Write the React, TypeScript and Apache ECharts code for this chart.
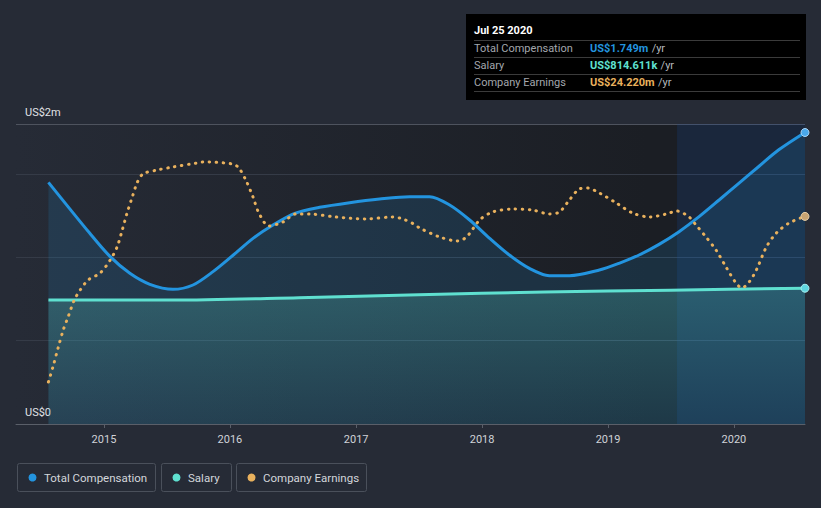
import React, { useEffect, useRef } from "react";
import * as echarts from "echarts";

// ---- data ----
const compDates = ["2014-07-24","2014-11-21","2015-01-19","2015-03-17","2015-05-14","2015-07-20","2015-09-16","2015-11-13","2016-01-11","2016-03-08","2016-05-05","2016-07-07","2016-09-17","2016-12-13","2017-03-10","2017-06-05","2017-08-02","2017-09-29","2017-11-26","2018-01-23","2018-03-21","2018-05-18","2018-07-15","2018-09-11","2018-12-07","2019-02-02","2019-04-01","2019-05-29","2019-07-26","2019-09-22","2019-11-19","2020-01-15","2020-03-13","2020-05-10","2020-07-25"];
const compValues = [1.45,1.144,1.004,0.904,0.838,0.808,0.834,0.914,1.014,1.114,1.194,1.264,1.30,1.328,1.35,1.364,1.364,1.314,1.224,1.114,1.014,0.934,0.89,0.89,0.924,0.964,1.014,1.078,1.154,1.244,1.344,1.444,1.545,1.645,1.749];

const salaryDates = ["2014-07-24","2015-07-20","2016-07-19","2017-07-01","2018-07-01","2019-07-01","2020-07-25"];
const salaryValues = [0.744,0.744,0.758,0.775,0.792,0.803,0.8146];

const earnDates = ["2014-07-24","2014-08-06","2014-08-21","2014-09-05","2014-09-19","2014-10-07","2014-10-24","2014-11-16","2014-12-21","2015-01-19","2015-02-08","2015-02-23","2015-03-09","2015-03-24","2015-04-08","2015-04-24","2015-06-04","2015-07-19","2015-09-27","2015-10-15","2016-01-10","2016-01-27","2016-02-16","2016-03-08","2016-03-25","2016-04-23","2016-06-03","2016-07-10","2016-08-17","2016-11-03","2017-01-29","2017-04-17","2017-05-16","2017-06-17","2017-07-04","2017-08-31","2017-10-22","2017-11-17","2017-12-25","2018-01-31","2018-03-30","2018-05-27","2018-07-15","2018-08-13","2018-09-11","2018-10-10","2018-11-02","2018-12-07","2019-01-25","2019-03-13","2019-05-01","2019-06-19","2019-07-20","2019-08-24","2019-09-13","2019-10-12","2019-11-10","2019-12-09","2020-01-07","2020-01-24","2020-02-14","2020-03-06","2020-04-04","2020-05-03","2020-06-09","2020-07-25"];
const earnValues = [4.9,6.65,8.87,10.97,12.48,14.47,15.63,16.8,17.62,19.13,20.65,22.63,24.62,26.48,28.23,29.17,29.63,29.98,30.45,30.57,30.33,29.87,28.47,26.48,24.62,23.1,23.57,24.5,24.5,24.15,23.92,24.15,23.92,23.33,22.87,21.82,21.35,21.82,23.8,24.73,25.08,24.97,24.5,24.73,26.13,27.42,27.53,26.95,25.78,24.62,24.15,24.5,24.85,24.15,23.22,21.82,20.3,18.32,16.45,15.87,16.57,17.97,20.65,22.28,23.45,24.22];

const seriesNames = ["Total Compensation", "Salary", "Company Earnings"];
const seriesColors = ["#2394df", "#5fe0d0", "#e9b15d"];
const yTickLabels: Record<string, string> = { "0": "US$0", "1.8": "US$2m" };

const tooltipTitle = "Jul 25 2020";
const tooltipValues = ["US$1.749m", "US$814.611k", "US$24.220m"];

const highlightStart = "2019-07-20";
const axisStart = "2014-04-21";
const axisEnd = "2020-07-25";

export default function App() {
  const ref = useRef<HTMLDivElement>(null);
  useEffect(() => {
    if (!ref.current) return;
    const chart = echarts.init(ref.current, null, { renderer: "svg" });
    const lastSize = (n: number, size: number) => (_v: any, p: any) => (p.dataIndex === n - 1 ? size : 0);

    const legendBoxes = [
      { x: 17, w: 138 },
      { x: 161, w: 70 },
      { x: 236, w: 130 },
    ];
    const legendGraphics: any[] = legendBoxes.map((b, i) => ({
      type: "group",
      children: [
        { type: "rect", shape: { x: b.x + 0.5, y: 463.5, width: b.w, height: 28, r: 2 }, style: { fill: "transparent", stroke: "#4a505b", lineWidth: 1 } },
        { type: "circle", shape: { cx: b.x + 15.5, cy: 477.5, r: 4 }, style: { fill: seriesColors[i] } },
        { type: "text", x: b.x + 27, y: 477.5, style: { text: seriesNames[i], fill: "#d3d6db", font: "11.5px Roboto, sans-serif", verticalAlign: "middle" } },
      ],
    }));

    const ttRowsY = [48, 65, 82];
    const ttGraphics: any[] = [
      { type: "rect", shape: { x: 466, y: 14, width: 340, height: 86 }, style: { fill: "#000000" } },
      { type: "text", x: 474, y: 30, style: { text: tooltipTitle, fill: "#ffffff", font: "bold 11px Roboto, sans-serif", verticalAlign: "middle" } },
    ];
    [40, 57, 74, 91].forEach((y) => {
      ttGraphics.push({ type: "line", shape: { x1: 474, y1: y + 0.5, x2: 800, y2: y + 0.5 }, style: { stroke: "#3b3b3b", lineWidth: 1 } });
    });
    seriesNames.forEach((n, i) => {
      ttGraphics.push({ type: "text", x: 474, y: ttRowsY[i], style: { text: n, fill: "#a3a7ad", font: "11px Roboto, sans-serif", verticalAlign: "middle" } });
      ttGraphics.push({
        type: "text", x: 590, y: ttRowsY[i],
        style: {
          text: "{v|" + tooltipValues[i] + "} {u|/yr}",
          verticalAlign: "middle",
          rich: {
            v: { fill: seriesColors[i], font: "bold 11px Roboto, sans-serif" },
            u: { fill: "#b5b9bf", font: "11px Roboto, sans-serif" },
          },
        },
      });
    });

    chart.setOption({
      animation: false,
      backgroundColor: "#262b36",
      grid: {
        left: 16, right: 16, top: 124, bottom: 84, show: true, borderWidth: 0,
        backgroundColor: new echarts.graphic.LinearGradient(0, 0, 1, 0, [
          { offset: 0, color: "#262b36" },
          { offset: 0.8, color: "#1b1e24" },
          { offset: 1, color: "#1b1e24" },
        ]),
      },
      xAxis: {
        type: "time",
        min: axisStart,
        max: axisEnd,
        minInterval: 360 * 86400000,
        axisLine: { lineStyle: { color: "#5a5f69" } },
        axisTick: { show: true, length: 4, lineStyle: { color: "#5a5f69" } },
        axisLabel: { color: "#d0d3d8", fontSize: 11, fontFamily: "Roboto, sans-serif", formatter: "{yyyy}", margin: 10, showMinLabel: false, showMaxLabel: false },
        splitLine: { show: false },
      },
      yAxis: [
        {
          type: "value", min: 0, max: 1.8, interval: 0.5,
          axisLine: { show: false }, axisTick: { show: false },
          axisLabel: {
            inside: true, margin: 9, verticalAlign: "bottom", color: "#e0e2e6", fontSize: 11, fontFamily: "Roboto, sans-serif",
            formatter: (v: number) => yTickLabels[String(Math.round(v * 10) / 10)] || "",
            padding: [0, 0, 6, 0],
          },
          splitLine: { lineStyle: { color: ["#565b66", "#353b47", "#353b47", "#353b47", "#4e535e"], width: 1 } },
        },
        { type: "value", min: 0, max: 35, show: false, splitLine: { show: false } },
      ],
      series: [
        {
          name: seriesNames[0], type: "line", smooth: 0.3,
          data: compDates.map((d, i) => [d, compValues[i]]),
          symbol: "circle", showSymbol: true, symbolSize: lastSize(compDates.length, 8),
          itemStyle: { color: "#4aa8ea", borderColor: "#a9d6f7", borderWidth: 1 },
          lineStyle: { color: seriesColors[0], width: 3 },
          areaStyle: { color: "rgba(35,148,223,0.22)" },
          z: 2,
          markArea: {
            silent: true,
            itemStyle: { color: "rgba(25,75,160,0.2)" },
            data: [[{ xAxis: highlightStart }, { xAxis: axisEnd }]],
          },
        },
        {
          name: seriesNames[1], type: "line", smooth: 0.3,
          data: salaryDates.map((d, i) => [d, salaryValues[i]]),
          symbol: "circle", showSymbol: true, symbolSize: lastSize(salaryDates.length, 8),
          itemStyle: { color: "#5fd6e0", borderColor: "#a8eef0", borderWidth: 1 },
          lineStyle: { color: seriesColors[1], width: 3 },
          areaStyle: {
            color: new echarts.graphic.LinearGradient(0, 0, 0, 1, [
              { offset: 0, color: "rgba(95,224,208,0.32)" },
              { offset: 1, color: "rgba(95,224,208,0.07)" },
            ]),
          },
          z: 3,
        },
        {
          name: seriesNames[2], type: "line", smooth: 0.3, yAxisIndex: 1,
          data: earnDates.map((d, i) => [d, earnValues[i]]),
          symbol: "circle", showSymbol: true, symbolSize: lastSize(earnDates.length, 8),
          itemStyle: { color: "#c8a472", borderColor: "#e6cfa8", borderWidth: 1 },
          lineStyle: { color: seriesColors[2], width: 3, type: [0.5, 6.5], cap: "round" },
          z: 4,
        },
      ],
      graphic: [...ttGraphics, ...legendGraphics],
    });
    return () => chart.dispose();
  }, []);
  return <div ref={ref} style={{ width: 821, height: 508, position: "absolute", left: 0, top: 0 }} />;
}
